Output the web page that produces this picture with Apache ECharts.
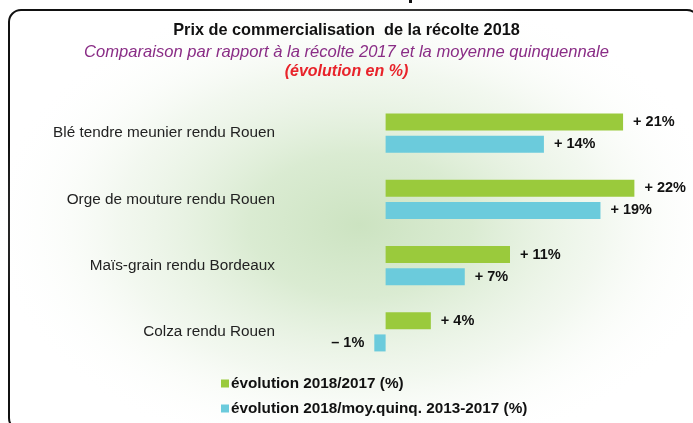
<!DOCTYPE html>
<html>
<head>
<meta charset="utf-8">
<script src="https://cdn.jsdelivr.net/npm/echarts@6/dist/echarts.min.js"></script>
<style>
  html, body { margin: 0; padding: 0; background: #fff; }
  #main { width: 693px; height: 423px; }
</style>
</head>
<body>
<div id="main"></div>
<script>
// categories (top to bottom)
const categories = [
  'Blé tendre meunier rendu Rouen',
  'Orge de mouture rendu Rouen',
  'Maïs-grain rendu Bordeaux',
  'Colza rendu Rouen'
];
const seriesNames = [
  'évolution 2018/2017 (%)',
  'évolution 2018/moy.quinq. 2013-2017 (%)'
];
const evol2017 = [21, 22, 11, 4];
const evolMoyQuinq = [14, 19, 7, -1];

const font = "'Liberation Sans', Arial, sans-serif";

// negative values get the label on the left side
const toData = vals => vals.map(v => ({
  value: v,
  label: { position: v < 0 ? 'left' : 'right' }
}));
const fmt = p => (p.value < 0 ? '– ' + Math.abs(p.value) : '+ ' + p.value) + '%';

const chart = echarts.init(document.getElementById('main'));

chart.setOption({
  animation: false,
  backgroundColor: '#fff',
  graphic: [
    {
      type: 'rect', z: -10, silent: true,
      shape: { x: 9, y: 10, width: 690, height: 420, r: 12 },
      style: { fill: '#fff', stroke: '#111', lineWidth: 2 }
    },
    {
      // soft green glow
      type: 'circle', z: -9, silent: true,
      x: 360, y: 225, scaleX: 1.55, scaleY: 1,
      shape: { cx: 0, cy: 0, r: 240 },
      style: {
        fill: {
          type: 'radial', x: 0.5, y: 0.5, r: 0.5,
          colorStops: [
            { offset: 0, color: 'rgba(204,227,193,1)' },
            { offset: 0.3, color: 'rgba(214,233,205,0.9)' },
            { offset: 0.65, color: 'rgba(232,242,227,0.55)' },
            { offset: 1, color: 'rgba(255,255,255,0)' }
          ]
        }
      }
    },
    {
      type: 'rect', silent: true,
      shape: { x: 409, y: 0, width: 3, height: 3 },
      style: { fill: '#111' }
    }
  ],
  title: [
    {
      text: 'Prix de commercialisation  de la récolte 2018',
      left: 'center', top: 18,
      textStyle: { fontFamily: font, fontSize: 16.3, fontWeight: 'bold', color: '#111' }
    },
    {
      text: 'Comparaison par rapport à la récolte 2017 et la moyenne quinquennale',
      left: 'center', top: 39,
      textStyle: { fontFamily: font, fontSize: 16.6, fontStyle: 'italic', fontWeight: 'normal', color: '#8a2d86' }
    },
    {
      text: '(évolution en %)',
      left: 'center', top: 59,
      textStyle: { fontFamily: font, fontSize: 16, fontStyle: 'italic', fontWeight: 'bold', color: '#e8232a' }
    }
  ],
  legend: {
    orient: 'vertical',
    left: 216, top: 371,
    icon: 'rect',
    itemWidth: 8, itemHeight: 8, itemGap: 10,
    textStyle: { fontFamily: font, fontSize: 15.3, fontWeight: 'bold', color: '#111', padding: [0, 0, 0, -3] },
    data: seriesNames
  },
  grid: { left: 363, width: 294, top: 100, height: 265 },
  xAxis: { type: 'value', min: -2, max: 24, show: false },
  yAxis: {
    type: 'category',
    data: categories,
    inverse: true,
    axisLine: { show: false, onZero: false },
    axisTick: { show: false },
    axisLabel: { margin: 88, fontFamily: font, fontSize: 15.3, color: '#222' }
  },
  series: [
    {
      name: seriesNames[0], type: 'bar',
      data: toData(evol2017),
      barWidth: 17, barGap: '30%',
      itemStyle: { color: '#9aca3c' },
      label: { show: true, distance: 10, formatter: fmt, fontFamily: font, fontSize: 14.5, fontWeight: 'bold', color: '#111' }
    },
    {
      name: seriesNames[1], type: 'bar',
      data: toData(evolMoyQuinq),
      barWidth: 17,
      itemStyle: { color: '#6bcbdc' },
      label: { show: true, distance: 10, formatter: fmt, fontFamily: font, fontSize: 14.5, fontWeight: 'bold', color: '#111' }
    }
  ]
});
</script>
</body>
</html>
